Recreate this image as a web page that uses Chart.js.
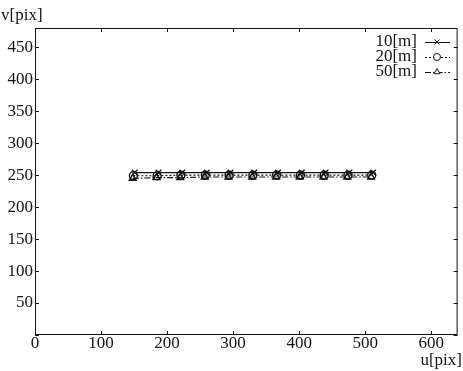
<!DOCTYPE html>
<html>
<head>
<meta charset="utf-8">
<script src="https://cdn.jsdelivr.net/npm/chart.js@4/dist/chart.umd.min.js"></script>
<style>
  html, body { margin: 0; padding: 0; background: #fff; }
  #wrap { width: 463px; height: 371px; position: relative; }
</style>
</head>
<body>
<div id="wrap"><canvas id="c"></canvas></div>
<script>
// camera image coords of the reference points, three distances

const seriesNames = ['10[m]', '20[m]', '50[m]'];
const u10 = [151, 187, 223, 260, 296, 332, 368, 404, 440, 476, 512];
const v10 = [254, 254, 254, 254, 254, 254, 254, 254, 254, 254, 254];
const u20 = [149, 185, 221, 258, 294, 330, 366, 402, 438, 474, 510];
const v20 = [249, 249, 250, 250, 250, 250, 250, 250, 250, 250, 250];
const u50 = [148, 184, 220, 257, 293, 329, 365, 401, 437, 473, 509];
const v50 = [245, 246, 246, 247, 247, 247, 247, 247, 247, 247, 247];
const xTicks = [0, 100, 200, 300, 400, 500, 600];
const yTicks = [0, 50, 100, 150, 200, 250, 300, 350, 400, 450];

const INK = '#151515';
const SERIF = '"Liberation Serif", "DejaVu Serif", serif';
const FS = 17;

function pts(us, vs) {
  return us.map((u, i) => ({ x: u, y: vs[i] }));
}

const styles = [
  { point: 'crossRot', dash: [] },
  { point: 'circle', dash: [2, 2] },
  { point: 'triangle', dash: [6, 2, 1.5, 2] },
];

// inward ticks on all four sides, axis titles, legend inside the plot
const framePlugin = {
  id: 'frame',
  afterDraw(chart) {
    const ctx = chart.ctx;
    const a = chart.chartArea;
    const xs = chart.scales.x, ys = chart.scales.y;
    ctx.save();
    ctx.strokeStyle = INK;
    ctx.lineWidth = 1;
    ctx.strokeRect(a.left + 0.5, a.top + 0.5, a.right - a.left - 1, a.bottom - a.top - 1);
    ctx.beginPath();
    xTicks.forEach(t => {
      const px = Math.round(xs.getPixelForValue(t)) + 0.5;
      ctx.moveTo(px, a.bottom); ctx.lineTo(px, a.bottom - 4);
      ctx.moveTo(px, a.top); ctx.lineTo(px, a.top + 4);
    });
    yTicks.forEach(t => {
      const py = Math.round(ys.getPixelForValue(t)) + 0.5;
      ctx.moveTo(a.left, py); ctx.lineTo(a.left + 4, py);
      ctx.moveTo(a.right, py); ctx.lineTo(a.right - 4, py);
    });
    ctx.stroke();

    ctx.fillStyle = INK;
    ctx.font = FS + 'px ' + SERIF;
    ctx.textAlign = 'left';
    ctx.textBaseline = 'middle';
    ctx.fillText('v[pix]', 1, 16);
    ctx.textAlign = 'right';
    ctx.fillText('u[pix]', 462, 361);

    // legend
    chart.data.datasets.forEach((ds, i) => {
      const y = 42 + i * 15;
      ctx.textAlign = 'right';
      ctx.fillStyle = INK;
      ctx.fillText(ds.label, 417, y);
      ctx.setLineDash(styles[i].dash);
      ctx.beginPath();
      ctx.moveTo(425, y + 0.5); ctx.lineTo(450, y + 0.5);
      ctx.stroke();
      ctx.setLineDash([]);
      ctx.fillStyle = '#fff';
      Chart.helpers.drawPoint(ctx, {
        pointStyle: styles[i].point, radius: 3.5, borderWidth: 1.2
      }, 437, y);
    });
    ctx.restore();
  }
};

const datasets = [pts(u10, v10), pts(u20, v20), pts(u50, v50)].map((d, i) => ({
  label: seriesNames[i],
  data: d,
  showLine: true,
  borderColor: INK,
  backgroundColor: 'rgba(255,255,255,0)',
  borderWidth: 1.2,
  borderDash: styles[i].dash,
  pointStyle: styles[i].point,
  pointRadius: 4,
  pointBorderWidth: 1.4,
  pointBorderColor: INK,
  pointBackgroundColor: 'rgba(255,255,255,0)',
}));

new Chart(document.getElementById('c'), {
  type: 'scatter',
  data: { datasets },
  options: {
    responsive: true,
    maintainAspectRatio: false,
    animation: false,
    layout: { padding: { top: 28, right: 2, left: 0, bottom: 0 } },
    plugins: { legend: { display: false }, tooltip: { enabled: false } },
    scales: {
      x: {
        type: 'linear', min: 0, max: 640,
        afterBuildTicks: s => { s.ticks = xTicks.map(v => ({ value: v })); },
        afterFit: s => { s.height = 36; },
        grid: { display: false, drawTicks: false, tickLength: 0 },
        border: { display: false },
        ticks: { color: INK, font: { family: SERIF, size: FS }, padding: -2, maxRotation: 0 },
      },
      y: {
        type: 'linear', min: 0, max: 480,
        afterBuildTicks: s => { s.ticks = yTicks.filter(v => v > 0).map(v => ({ value: v })); },
        afterFit: s => { s.width = 35; },
        grid: { display: false, drawTicks: false, tickLength: 0 },
        border: { display: false },
        ticks: { color: INK, font: { family: SERIF, size: FS }, padding: 2 },
      },
    },
  },
  plugins: [framePlugin],
});
</script>
</body>
</html>
